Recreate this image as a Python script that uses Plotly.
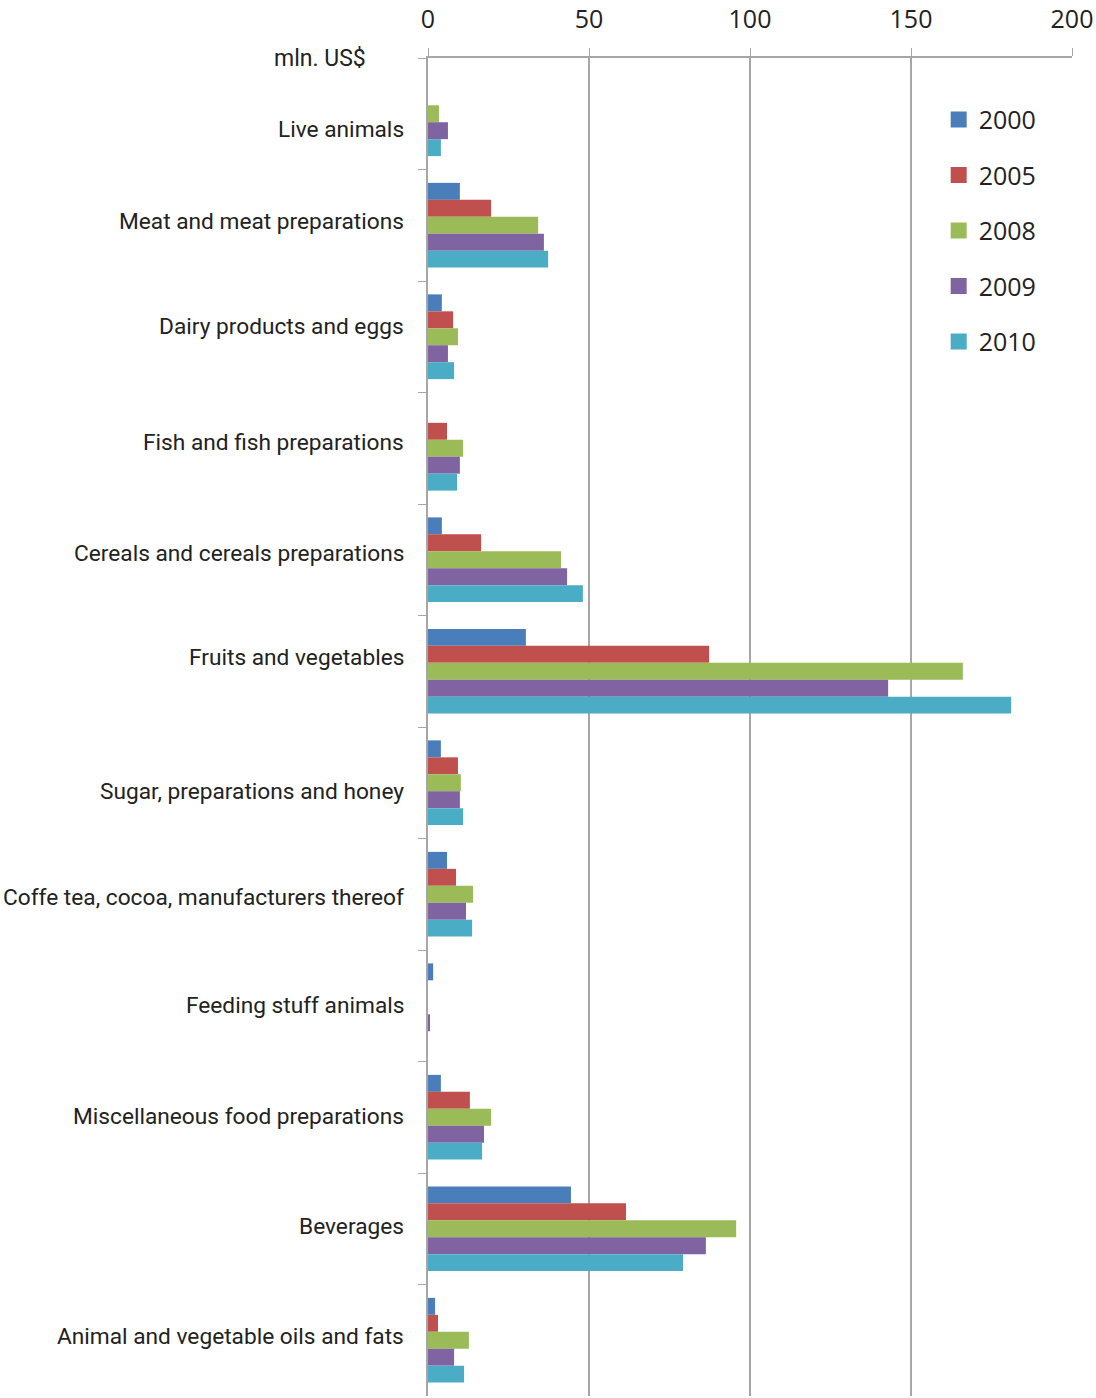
import plotly.graph_objects as go

categories = [
    "Live animals",
    "Meat and meat preparations",
    "Dairy products and eggs",
    "Fish and fish preparations",
    "Cereals and cereals preparations",
    "Fruits and vegetables",
    "Sugar, preparations and honey",
    "Coffe tea, cocoa, manufacturers thereof",
    "Feeding stuff animals",
    "Miscellaneous food preparations",
    "Beverages",
    "Animal and vegetable oils and fats",
]

years = ["2000", "2005", "2008", "2009", "2010"]

v2000 = [0, 9.9, 4.3, 0, 4.3, 30.4, 4.0, 5.9, 1.6, 4.0, 44.4, 2.2]
v2005 = [0, 19.6, 7.8, 5.9, 16.5, 87.3, 9.3, 8.7, 0, 13.0, 61.5, 3.1]
v2008 = [3.4, 34.2, 9.3, 10.9, 41.3, 166.1, 10.2, 14.0, 0, 19.6, 95.7, 12.7]
v2009 = [6.2, 36.0, 6.2, 9.9, 43.2, 142.9, 9.9, 11.8, 0.6, 17.4, 86.3, 8.1]
v2010 = [4.0, 37.3, 8.1, 9.0, 48.1, 181.1, 10.9, 13.7, 0, 16.8, 79.2, 11.2]

series = [v2000, v2005, v2008, v2009, v2010]
colors = ["#4a7ebb", "#c0504d", "#9bbb59", "#8064a2", "#4bacc6"]

tick_vals = [0, 50, 100, 150, 200]

# label vertical nudges (px, downward) as placed in the original layout
label_nudge = [16, -4, -10, -6, -6, -14, 9, 3, 0, -1, -2, -4]

label_font = "Roboto, Noto Sans, sans-serif"
legend_font = "Open Sans, Noto Sans, sans-serif"

fig = go.Figure()
for y, vals, c in zip(years, series, colors):
    fig.add_trace(go.Bar(
        y=categories, x=vals, name=y, orientation="h",
        marker=dict(color=c, line=dict(width=0)),
        showlegend=False,
    ))
# legend entries with square swatches
for y, c in zip(years, colors):
    fig.add_trace(go.Scatter(
        x=[None], y=[None], mode="markers", name=y,
        marker=dict(symbol="square", size=19, color=c),
        legendgroup=y, showlegend=True,
    ))

annotations = [dict(
    text="mln. US$", xref="paper", yref="paper",
    x=0, y=1.0, xanchor="right", yanchor="middle", xshift=-60,
    showarrow=False, font=dict(family=label_font, size=23, color="#222222"),
)]
for cat, nud in zip(categories, label_nudge):
    annotations.append(dict(
        text=cat, xref="paper", yref="y", x=0, y=cat,
        xanchor="right", yanchor="middle", xshift=-22, yshift=-nud,
        showarrow=False, font=dict(family=label_font, size=22.7, color="#222222"),
    ))

fig.update_layout(
    width=1096, height=1398,
    paper_bgcolor="white", plot_bgcolor="white",
    barmode="group", bargap=0.24, bargroupgap=0,
    margin=dict(l=428, r=24, t=58, b=2),
    font=dict(family=label_font, size=23, color="#222222"),
    showlegend=True,
    legend=dict(
        x=0.793, y=0.971, xanchor="left", yanchor="top",
        traceorder="grouped", tracegroupgap=20,
        font=dict(family=legend_font, size=25, color="#222222"),
        bgcolor="rgba(0,0,0,0)", itemwidth=30,
    ),
    xaxis=dict(
        side="top", range=[0, 200], tickvals=tick_vals,
        showgrid=True, gridcolor="#a6a6a6", gridwidth=1.5,
        showline=True, linecolor="#a6a6a6", linewidth=1.5,
        ticks="outside", ticklen=8, tickcolor="#a6a6a6",
        ticklabelstandoff=10,
        tickfont=dict(family=legend_font, size=25, color="#222222"),
        zeroline=False, fixedrange=True, automargin=False,
    ),
    yaxis=dict(
        autorange="reversed", type="category",
        showline=True, linecolor="#a6a6a6", linewidth=1.5,
        ticks="outside", ticklen=8, tickcolor="#a6a6a6",
        tickson="boundaries", showticklabels=False,
        showgrid=False, automargin=False,
    ),
    annotations=annotations,
)

fig.write_html(
    "out.html",
    config={"displayModeBar": False},
    post_script="document.body.style.margin='0';document.body.style.overflow='hidden';",
)
